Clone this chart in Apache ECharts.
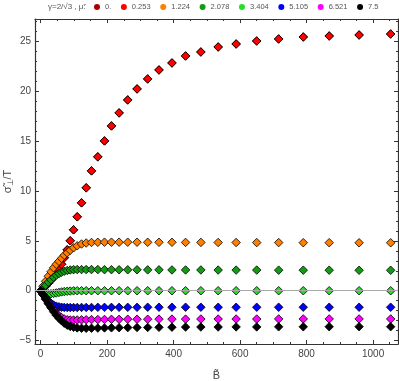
<!DOCTYPE html>
<html>
<head>
<meta charset="utf-8">
<script src="https://cdn.jsdelivr.net/npm/echarts@6/dist/echarts.min.js"></script>
<style>
html, body { margin: 0; padding: 0; background: #fff; }
#chart { width: 399px; height: 381px; }
</style>
</head>
<body>
<div id="chart"></div>
<script>
// B~ values shared by every curve
var bValues = [0, 7, 15, 23, 31, 39, 47, 55, 63, 71, 80, 89, 99, 110, 123, 137, 153, 172, 192, 213,
  236, 262, 290, 322, 356, 395, 436, 482, 534, 588, 650, 716, 790, 868, 958, 1053];

var muNames = ["0.", "0.253", "1.224", "2.078", "3.404", "5.105", "6.521", "7.5"];
var muColors = ["#a80000", "#ff0000", "#ff8000", "#139c13", "#22e022", "#0000ff", "#ff00ff", "#000000"];

var sigma0 = [0, 0.2, 0.45, 0.75, 1.05, 1.4, 1.75, 2.15, 2.65, 3.3, 4.1, 5.0, 6.1, 7.4, 8.8, 10.3, 12.0, 13.4, 15.0, 16.5,
  17.8, 19.1, 20.2, 21.2, 22.1, 22.8, 23.5, 23.9, 24.4, 24.7, 25.0, 25.2, 25.4, 25.5, 25.6, 25.7];
var sigma0253 = [0, 0.2, 0.45, 0.75, 1.05, 1.4, 1.75, 2.15, 2.65, 3.3, 4.1, 5.0, 6.1, 7.4, 8.8, 10.3, 12.0, 13.4, 15.0, 16.5,
  17.8, 19.1, 20.2, 21.2, 22.1, 22.8, 23.5, 23.9, 24.4, 24.7, 25.0, 25.2, 25.4, 25.5, 25.6, 25.7];
var sigma1224 = [0, 0.45, 0.95, 1.45, 1.9, 2.3, 2.65, 2.95, 3.25, 3.55, 3.8, 4.05, 4.3, 4.5, 4.68, 4.78, 4.83, 4.85, 4.86, 4.86,
  4.86, 4.86, 4.86, 4.85, 4.85, 4.85, 4.84, 4.84, 4.83, 4.83, 4.82, 4.82, 4.81, 4.81, 4.8, 4.8];
var sigma2078 = [0, 0.25, 0.55, 0.85, 1.1, 1.35, 1.55, 1.72, 1.85, 1.95, 2.03, 2.08, 2.11, 2.12, 2.12, 2.12, 2.12, 2.12, 2.11, 2.11,
  2.1, 2.1, 2.1, 2.09, 2.09, 2.08, 2.08, 2.08, 2.07, 2.07, 2.07, 2.06, 2.06, 2.06, 2.05, 2.05];
var sigma3404 = [0, -0.15, -0.25, -0.3, -0.3, -0.27, -0.22, -0.17, -0.12, -0.08, -0.05, -0.03, -0.01, 0, 0, 0, 0, 0, 0, 0,
  0, 0, 0, 0, 0, 0, 0, 0, 0, 0, 0, 0, 0, 0, 0, 0];
var sigma5105 = [0, -0.35, -0.7, -1.0, -1.25, -1.43, -1.54, -1.61, -1.65, -1.67, -1.68, -1.68, -1.68, -1.68, -1.67, -1.67, -1.67, -1.66, -1.66, -1.66,
  -1.66, -1.66, -1.66, -1.65, -1.65, -1.65, -1.65, -1.65, -1.65, -1.65, -1.65, -1.65, -1.65, -1.65, -1.65, -1.65];
var sigma6521 = [0, -0.4, -0.8, -1.2, -1.6, -1.95, -2.25, -2.5, -2.68, -2.82, -2.9, -2.93, -2.93, -2.92, -2.91, -2.9, -2.89, -2.88, -2.87, -2.86,
  -2.86, -2.85, -2.85, -2.85, -2.84, -2.84, -2.84, -2.83, -2.83, -2.83, -2.83, -2.82, -2.82, -2.82, -2.82, -2.82];
var sigma75 = [0, -0.4, -0.85, -1.3, -1.7, -2.1, -2.45, -2.75, -3.0, -3.25, -3.45, -3.58, -3.66, -3.72, -3.75, -3.76, -3.75, -3.74, -3.72, -3.71,
  -3.7, -3.69, -3.68, -3.67, -3.66, -3.65, -3.64, -3.63, -3.63, -3.62, -3.62, -3.61, -3.61, -3.6, -3.6, -3.6];

var sigmaAll = [sigma0, sigma0253, sigma1224, sigma2078, sigma3404, sigma5105, sigma6521, sigma75];

var xMajorTicks = [0, 200, 400, 600, 800, 1000];
var xMinorTicks = [0, 50, 100, 150, 200, 250, 300, 350, 400, 450, 500, 550, 600, 650, 700, 750, 800, 850, 900, 950, 1000, 1050];
var yMajorTicks = [-5, 0, 5, 10, 15, 20, 25];
var yMinorTicks = [-5, -4, -3, -2, -1, 0, 1, 2, 3, 4, 5, 6, 7, 8, 9, 10, 11, 12, 13, 14, 15, 16, 17, 18, 19, 20, 21, 22, 23, 24, 25, 26, 27];

var X_MIN = -17, X_MAX = 1075, Y_MIN = -5.33, Y_MAX = 27.2;
var frameColor = "#333";
var font = "Liberation Sans";

function makeAxis(pos, ticks, len, labels, extra) {
  var isX = pos === "top" || pos === "bottom";
  var ax = {
    type: "value",
    position: pos,
    min: isX ? X_MIN : Y_MIN,
    max: isX ? X_MAX : Y_MAX,
    axisLine: { show: labels !== null || extra.line, onZero: false, lineStyle: { color: frameColor, width: 1.2 } },
    axisTick: { show: true, inside: true, length: len, customValues: ticks, lineStyle: { color: frameColor, width: 1 } },
    axisLabel: { show: false },
    splitLine: { show: false }
  };
  if (labels) {
    ax.axisLabel = {
      show: true, customValues: labels, fontSize: 10, color: "#444", fontFamily: font, margin: isX ? 5 : 4,
      formatter: function (v) { return v < 0 ? "\u2212" + Math.abs(v) : String(v); }
    };
  }
  return Object.assign(ax, extra.opts || {});
}

var xAxes = [
  makeAxis("bottom", xMajorTicks, 4, xMajorTicks, { opts: {
    name: "B\u0303", nameLocation: "middle", nameGap: 26,
    nameTextStyle: { fontSize: 11, color: "#444", fontFamily: font }
  } }),
  makeAxis("bottom", xMinorTicks, 2, null, {}),
  makeAxis("top", xMajorTicks, 4, null, { line: true }),
  makeAxis("top", xMinorTicks, 2, null, {})
];
var yAxes = [
  makeAxis("left", yMajorTicks, 4, yMajorTicks, { opts: {
    name: "{s|\u03C3\u0303}{sub|\u22A5}{s|/T}", nameLocation: "middle", nameGap: 20,
    nameMoveOverlap: false,
    nameTextStyle: {
      fontFamily: font, color: "#444",
      rich: {
        s: { fontSize: 11, color: "#444", fontFamily: font },
        sub: { fontSize: 8, color: "#444", fontFamily: font, padding: [6, 0, 0, 0] }
      }
    }
  } }),
  makeAxis("left", yMinorTicks, 2, null, {}),
  makeAxis("right", yMajorTicks, 4, null, { line: true }),
  makeAxis("right", yMinorTicks, 2, null, {})
];

var series = muNames.map(function (name, i) {
  var s = {
    name: name,
    type: "scatter",
    xAxisIndex: 0,
    yAxisIndex: 0,
    symbol: "diamond",
    symbolSize: 8.5,
    itemStyle: { color: muColors[i], borderColor: "#000", borderWidth: 0.8, opacity: 1 },
    data: bValues.map(function (b, k) { return [b, sigmaAll[i][k]]; })
  };
  if (i === 0) {
    s.markLine = {
      silent: true, symbol: "none", animation: false,
      label: { show: false },
      lineStyle: { color: "#aaa", width: 1, type: "solid" },
      data: [{ yAxis: 0 }]
    };
  }
  return s;
});

var chart = echarts.init(document.getElementById("chart"));
chart.setOption({
  animation: false,
  backgroundColor: "#fff",
  grid: { left: 35, right: 1, top: 19, bottom: 37, containLabel: false, outerBoundsMode: "none" },
  graphic: [{
    type: "text", left: 48, top: 3,
    style: { text: "\u03B3=2/\u221A3 , \u03BC\u0303:", fontSize: 8, fill: "#555", fontFamily: font }
  }],
  legend: {
    top: 3, left: 94, padding: 0,
    icon: "circle", itemWidth: 6, itemHeight: 6, itemGap: 9.6,
    itemStyle: { borderWidth: 0 },
    textStyle: { fontSize: 7.5, color: "#555", fontFamily: font },
    data: muNames
  },
  xAxis: xAxes,
  yAxis: yAxes,
  series: series
});
</script>
</body>
</html>
